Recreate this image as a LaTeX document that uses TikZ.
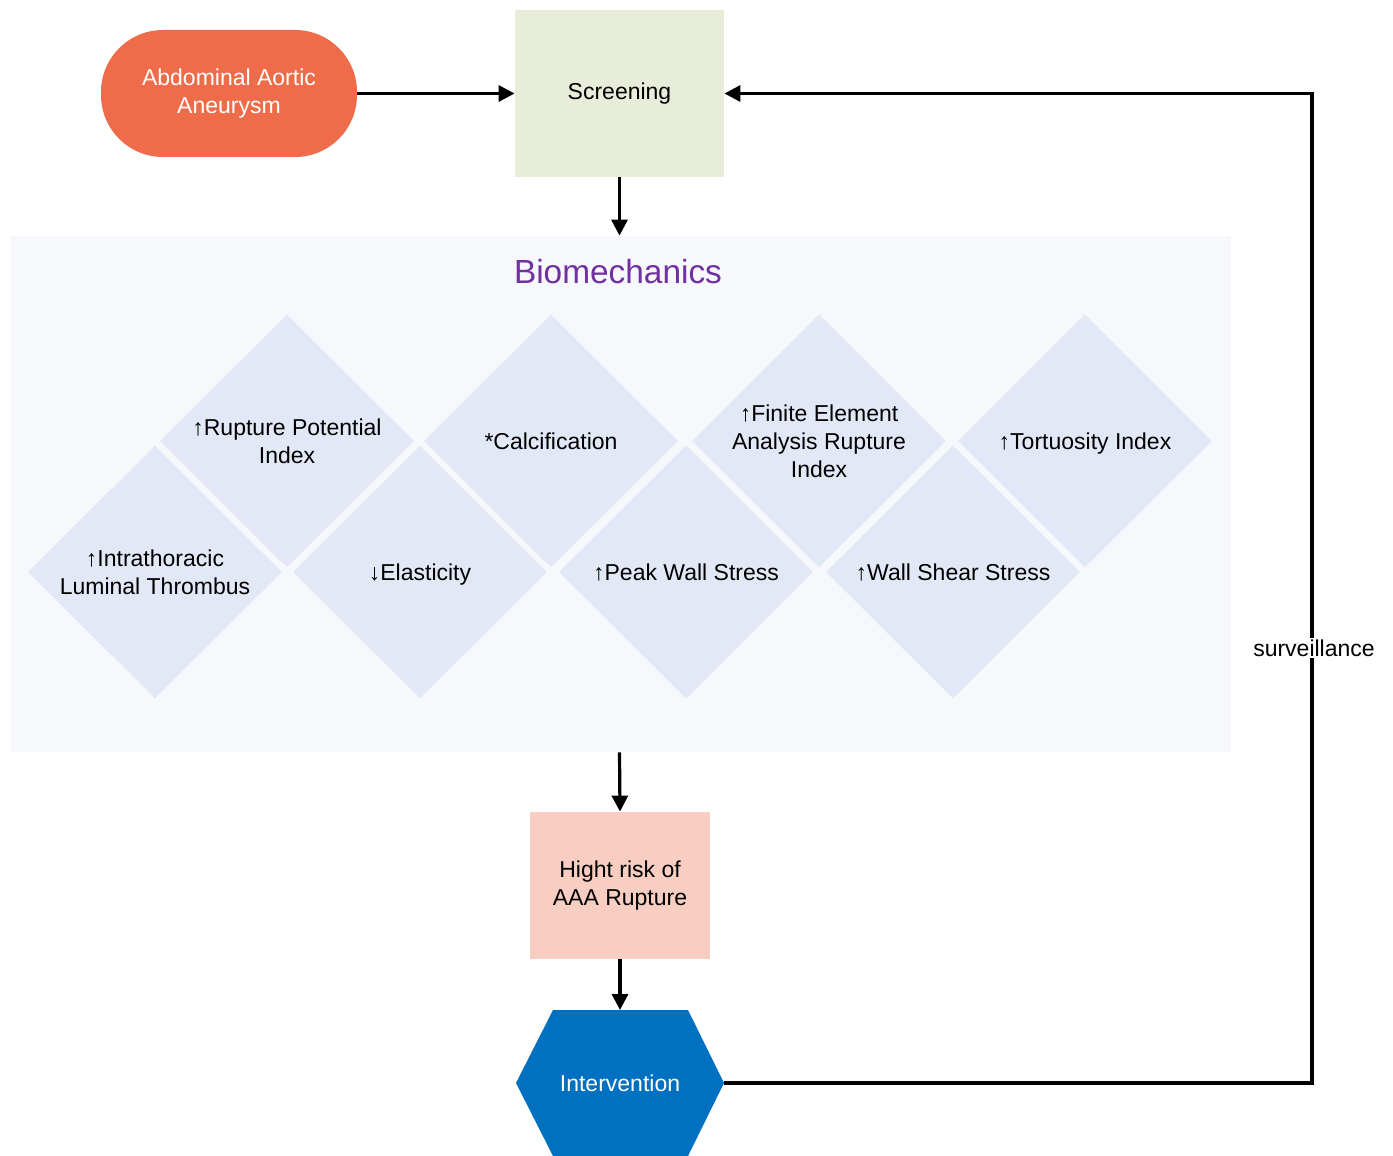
\documentclass[tikz,border=0pt]{standalone}
\usepackage{fontspec}
\setmainfont{Liberation Sans}
\usetikzlibrary{shapes.geometric,arrows.meta}
\definecolor{termc}{HTML}{EF6C4B}
\definecolor{scrc}{HTML}{E8EDDA}
\definecolor{bioc}{HTML}{F7F8FC}
\definecolor{diac}{HTML}{E3E8F6}
\definecolor{titc}{HTML}{7030A0}
\definecolor{riskc}{HTML}{F9CEC2}
\definecolor{hexc}{HTML}{0070C0}
\begin{document}
\begin{tikzpicture}[x=0.5pt,y=-0.5pt,
  txt/.style={font=\fontsize{11.5}{14}\selectfont, align=center},
  arr/.style={line width=1.6pt, -{Triangle[length=8pt,width=8pt]}},
  dia/.style={diamond, aspect=1, fill=diac, inner sep=0pt, minimum width=127pt, minimum height=126.5pt},
  boxst/.style={rectangle, inner sep=0pt, txt}]
\useasboundingbox (0,0) rectangle (1393,1156);
\fill[white] (0,0) rectangle (1393,1156);
% container
\node[rectangle, fill=bioc, inner sep=0pt, minimum width=610.5pt, minimum height=258pt] (bio) at (620.5,494) {};
\node[font=\fontsize{16.7}{20}\selectfont, text=titc] (title) at (618,272) {Biomechanics};
% diamonds
\node[dia] (d1) at (155,572) {};
\node[dia] (d2) at (287,441) {};
\node[dia] (d3) at (420,572) {};
\node[dia] (d4) at (551,441) {};
\node[dia] (d5) at (686,572) {};
\node[dia] (d6) at (819,441) {};
\node[dia] (d7) at (953,572) {};
\node[dia] (d8) at (1085,441) {};
\node[txt] (t1) at (d1) {↑Intrathoracic\\Luminal Thrombus};
\node[txt] (t2) at (d2) {↑Rupture Potential\\Index};
\node[txt, yshift=-1.5pt] (t3) at (d3) {↓Elasticity};
\node[txt] (t4) at (d4) {*Calcification};
\node[txt, yshift=-0.5pt] (t5) at (d5) {↑Peak Wall Stress};
\node[txt] (t6) at (d6) {↑Finite Element\\Analysis Rupture\\Index};
\node[txt, yshift=-0.5pt] (t7) at (d7) {↑Wall Shear Stress};
\node[txt, yshift=-1.5pt] (t8) at (d8) {↑Tortuosity Index};
% top
\node[boxst, fill=termc, text=white, minimum width=128pt, minimum height=63.5pt, rounded corners=31pt] (aaa) at (229,93.5) {Abdominal Aortic\\Aneurysm};
\node[boxst, fill=scrc, minimum width=104.5pt, minimum height=83.5pt] (scr) at (619.5,93.5) {Screening};
\node[boxst, fill=riskc, minimum width=90pt, minimum height=73.5pt] (risk) at (620,885.5) {Hight risk of\\AAA Rupture};
% hexagon
\fill[hexc] (553,1010) -- (688,1010) -- (724,1083) -- (688,1156) -- (553,1156) -- (516,1083) -- cycle;
\coordinate (hexT) at (620,1010);
\coordinate (hexR) at (724,1083);
\node[txt, text=white] (intv) at (620,1083) {Intervention};
% connectors
\draw[arr] (aaa.east) -- (scr.west);
\draw[arr] (scr.south) -- (scr.south |- bio.north);
\draw[arr] (scr.south |- bio.south) -- (risk.north);
\draw[arr] (risk.south) -- (hexT);
\coordinate (c1) at (1312,1083);
\coordinate (c2) at (1312,93.5);
\draw[arr] (hexR) -- (c1) -- (c2) -- (scr.east);
\node[txt, fill=white, inner sep=1pt] (surv) at (1314,648) {surveillance};
\end{tikzpicture}
\end{document}
